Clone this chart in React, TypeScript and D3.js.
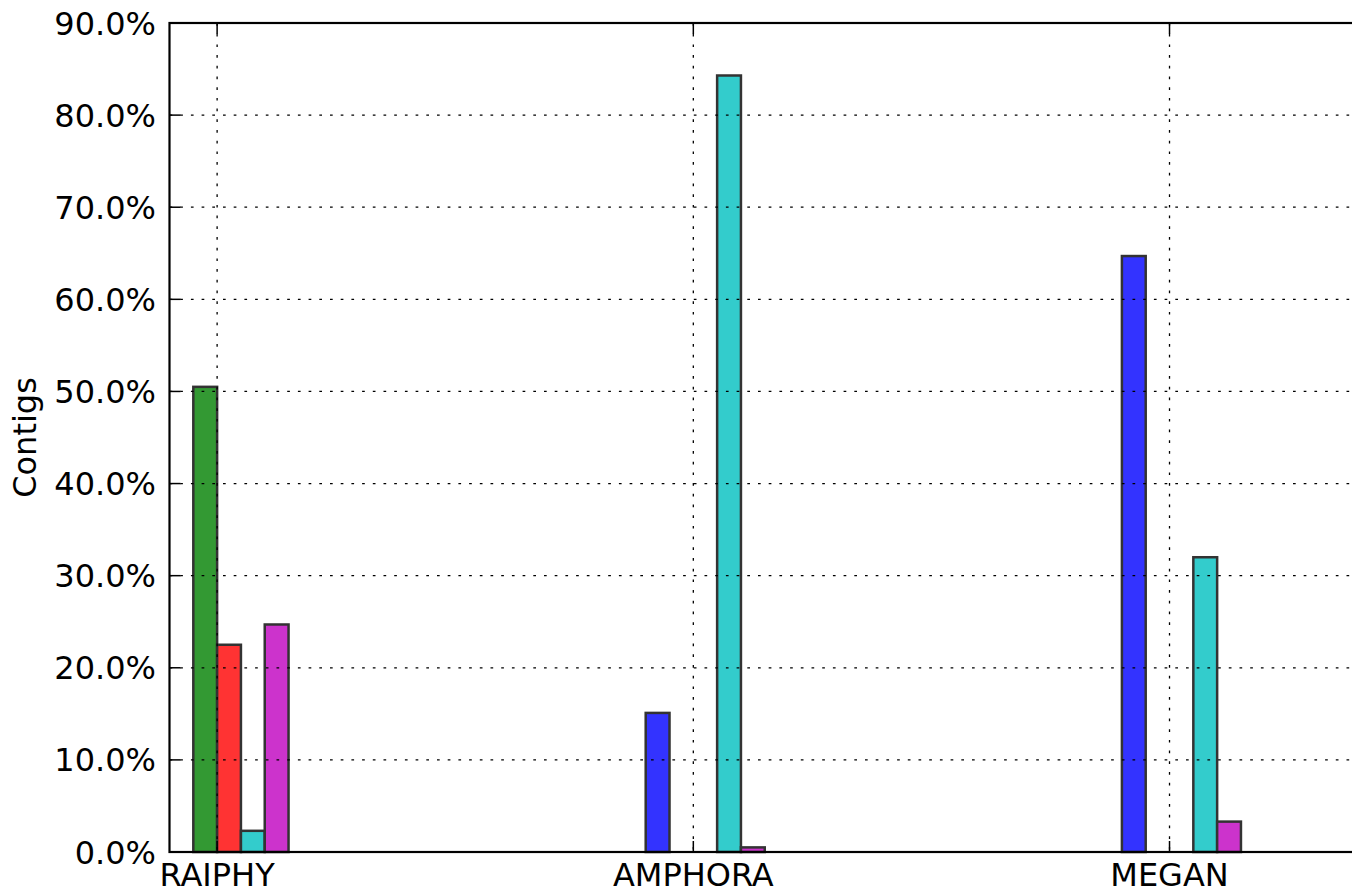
import React from "react";
import * as d3 from "d3";

// Share of contigs assigned by each classifier, one array per series (percent).
const categories = ["RAIPHY", "AMPHORA", "MEGAN"];
const blueSeries = [0, 15.1, 64.7];
const greenSeries = [50.5, 0, 0];
const redSeries = [22.5, 0, 0];
const cyanSeries = [2.3, 84.3, 32.0];
const magentaSeries = [24.7, 0.5, 3.3];
const seriesColors = ["#3333ff", "#339933", "#ff3333", "#33cccc", "#cc33cc"];
const yTickValues = [0, 10, 20, 30, 40, 50, 60, 70, 80, 90];

const allSeries = [blueSeries, greenSeries, redSeries, cyanSeries, magentaSeries];

const W = 1352;
const H = 893;
const left = 169.5;
const top = 23;
const bottom = 852;
const groupStep = 476.2;
const barW = 0.05;
const FONT = "DejaVu Sans, sans-serif";
const FS = 32;

export default function App() {
  const x = d3.scaleLinear().domain([0, 2.5]).range([left, left + 2.5 * groupStep]);
  const y = d3.scaleLinear().domain([0, 90]).range([bottom, top]);
  const right = x(2.5);
  const fmt = (d: number) => d.toFixed(1) + "%";
  const tickX = categories.map((_, i) => x(i + 2 * barW));

  const bars: React.ReactNode[] = [];
  allSeries.forEach((vals, s) => {
    vals.forEach((v, i) => {
      if (v <= 0) return;
      const x0 = x(i + s * barW);
      const x1 = x(i + (s + 1) * barW);
      bars.push(
        <rect
          key={`b${s}-${i}`}
          x={x0}
          y={y(v)}
          width={x1 - x0}
          height={y(0) - y(v)}
          fill={seriesColors[s]}
          stroke="#333333"
          strokeWidth={2.5}
        />
      );
    });
  });

  return (
    <svg
      width={W}
      height={H}
      style={{ position: "absolute", left: 0, top: 0, background: "#fff" }}
      fontFamily={FONT}
    >
      <rect x={0} y={0} width={W} height={H} fill="#fff" />
      {bars}
      {/* grid */}
      <g stroke="#000" strokeWidth={1.3} strokeDasharray="2.7,8">
        {yTickValues.slice(1, -1).map((t) => (
          <line key={`gy${t}`} x1={left} x2={right} y1={y(t)} y2={y(t)} />
        ))}
        {tickX.map((tx, i) => (
          <line key={`gx${i}`} x1={tx} x2={tx} y1={top} y2={bottom} />
        ))}
      </g>
      {/* ticks */}
      <g stroke="#000" strokeWidth={1.5}>
        {yTickValues.map((t) => (
          <line key={`ty${t}`} x1={left} x2={left + 11} y1={y(t)} y2={y(t)} />
        ))}
        {tickX.map((tx, i) => (
          <g key={`tx${i}`}>
            <line x1={tx} x2={tx} y1={bottom} y2={bottom - 11} />
            <line x1={tx} x2={tx} y1={top} y2={top + 11} />
          </g>
        ))}
      </g>
      {/* spines */}
      <rect
        x={left}
        y={top}
        width={right - left}
        height={bottom - top}
        fill="none"
        stroke="#000"
        strokeWidth={2.2}
      />
      {/* labels */}
      <g fontSize={FS} fill="#000">
        {yTickValues.map((t) => (
          <text key={`ly${t}`} x={156} y={y(t) + 11.6} textAnchor="end">
            {fmt(t)}
          </text>
        ))}
        {categories.map((c, i) => (
          <text key={`lx${i}`} x={tickX[i]} y={885.5} textAnchor="middle">
            {c}
          </text>
        ))}
        <text transform={`translate(36,${(top + bottom) / 2}) rotate(-90)`} textAnchor="middle">
          Contigs
        </text>
      </g>
    </svg>
  );
}
